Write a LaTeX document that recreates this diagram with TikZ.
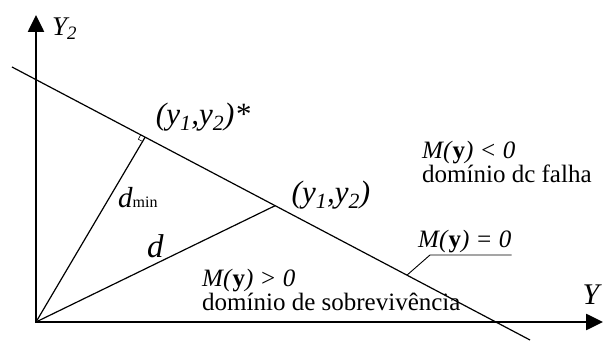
\documentclass[tikz,border=0pt]{standalone}
\usepackage{fontspec}
\setmainfont{Liberation Serif}
\usetikzlibrary{arrows.meta,calc}

\begin{document}
\begin{tikzpicture}[x=1pt, y=1pt,
  axes/.style={line width=2.6pt, line join=miter,
    {Triangle[length=17pt,width=16pt]}-{Triangle[length=17pt,width=16pt]}},
  thinline/.style={line width=1.2pt},
  lbl/.style={inner sep=0pt, align=left, font=\fontsize{25}{21}\selectfont},
  pointlbl/.style={inner sep=0pt, font=\fontsize{31}{31}\selectfont\itshape}]
  \useasboundingbox (0,0) rectangle (603,343);

  % Axes
  \coordinate (O) at (36,21);
  \coordinate (Ytop) at (36,328);
  \coordinate (Xend) at (603,21);
  \draw[axes] (Ytop) |- (Xend);
  \node[inner sep=0pt, anchor=west, font=\fontsize{27}{27}\selectfont\itshape] (y2lbl) at (52,314) {Y\textsubscript{2}};
  \node[inner sep=0pt, font=\fontsize{30}{30}\selectfont\itshape] (y1lbl) at (591,48) {Y};

  % Limit state line M(y) = 0
  \coordinate (A) at (12,276);
  \coordinate (B) at (530,3);
  \draw[thinline] (A) -- (B);
  \coordinate (F) at ($(A)!0.257!(B)$);  % design point
  \coordinate (P) at ($(A)!0.508!(B)$);  % other point
  \coordinate (L) at ($(A)!0.7625!(B)$); % leader foot

  % Distances
  \draw[thinline] (O) -- (F);
  \draw[thinline] (O) -- (P);
  \draw[line width=0.6pt] ($(F)!5pt!(A)$) -- ($(F)!5pt!(A)!5pt!-90:(F)$) -- ($(F)!5pt!(O)$);

  % Point labels
  \node[pointlbl] (starlbl) at (203,226) {(y\textsubscript{1},y\textsubscript{2})*};
  \node[pointlbl] (ptlbl) at (331,148) {(y\textsubscript{1},y\textsubscript{2})};
  \node[inner sep=0pt, anchor=base west] (dminlbl) at (118,135)
    {\fontsize{29}{29}\selectfont\itshape d\fontsize{16}{16}\selectfont\upshape min};
  \node[inner sep=0pt, anchor=base west, font=\fontsize{33}{33}\selectfont\itshape] (dlbl) at (147,85) {d};

  % Domains
  \node[lbl, anchor=west] (faillbl) at (422,181) {\textit{M(}\textbf{y}\textit{) < 0}\\domínio dc falha};
  \node[lbl, anchor=west] (safelbl) at (202,53) {\textit{M(}\textbf{y}\textit{) > 0}\\domínio de sobrevivência};

  % Label of the limit state line
  \node[anchor=south west, inner xsep=0pt, inner ysep=2pt, font=\fontsize{25}{25}\selectfont] (zerolbl) at (418,88)
    {\textit{M(}\textbf{y}\textit{) = 0}};
  \draw[line width=0.9pt] (L) -- ($(zerolbl.south west)+(12,0)$) -- (zerolbl.south east);
\end{tikzpicture}
\end{document}
